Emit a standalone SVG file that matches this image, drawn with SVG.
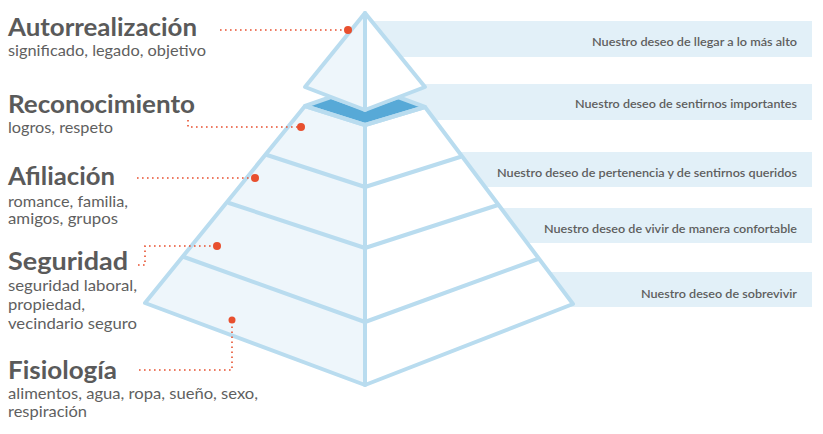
<svg xmlns="http://www.w3.org/2000/svg" width="823" height="434" viewBox="0 0 823 434">
<style>
.band{fill:#e2f0f8}
.bt{font-family:Lato,"Open Sans","Liberation Sans",sans-serif;font-size:11.5px;font-weight:600;fill:#5e5e5e}
.tt{font-family:Lato,"Open Sans","Liberation Sans",sans-serif;font-size:24px;font-weight:700;fill:#5a5a5a}
.st{font-family:Lato,"Open Sans","Liberation Sans",sans-serif;font-size:15px;fill:#5f5f5f}
.lf{fill:#eef6fb}
.rf{fill:#ffffff}
.ln{fill:none;stroke:#b9dcef;stroke-width:4;stroke-linejoin:round;stroke-linecap:round}
.ld{fill:none;stroke:#e8502f;stroke-width:1.6;stroke-dasharray:1.6 3.4}
.dot{fill:#e8502f}
</style>
<g id="bands">
<rect class="band" x="372" y="21" width="440" height="36"/>
<rect class="band" x="372" y="84" width="440" height="36"/>
<rect class="band" x="372" y="152" width="440" height="35"/>
<rect class="band" x="372" y="208" width="440" height="35"/>
<rect class="band" x="372" y="272" width="440" height="35"/>
<text class="bt" x="592" y="46" textLength="205" lengthAdjust="spacingAndGlyphs">Nuestro deseo de llegar a lo más alto</text>
<text class="bt" x="575" y="108" textLength="222" lengthAdjust="spacingAndGlyphs">Nuestro deseo de sentirnos importantes</text>
<text class="bt" x="497" y="177" textLength="300" lengthAdjust="spacingAndGlyphs">Nuestro deseo de pertenencia y de sentirnos queridos</text>
<text class="bt" x="544" y="233" textLength="253" lengthAdjust="spacingAndGlyphs">Nuestro deseo de vivir de manera confortable</text>
<text class="bt" x="641" y="298" textLength="156" lengthAdjust="spacingAndGlyphs">Nuestro deseo de sobrevivir</text>
</g>
<g id="pyramid">
<polygon class="lf" points="305,106 365,125 365,385 145,303"/>
<polygon class="rf" points="425,107 365,125 365,385 573,304"/>
<polygon fill="#57a9d7" stroke="#b9dcef" stroke-width="4" stroke-linejoin="round" points="305,106 331,97 365,109 398,97 425,107 365,125"/>
<polygon class="lf" points="365,13 305,87 365,110"/>
<polygon class="rf" points="365,13 425,87 365,110"/>
<polygon class="ln" points="365,13 305,87 365,110 425,87"/>
<line class="ln" x1="365" y1="13" x2="365" y2="110"/>
<polygon class="ln" points="305,106 365,125 425,107 573,304 365,385 145,303"/>
<line class="ln" x1="365" y1="125" x2="365" y2="385"/>
<polyline class="ln" points="267,155 365,187 460,157"/>
<polyline class="ln" points="229,203 365,248 498,205"/>
<polyline class="ln" points="184,257 365,322 538,259"/>
</g>
<g id="connectors">
<path class="ld" d="M220,30 H345"/>
<path class="ld" d="M188,120 V127 H298"/>
<path class="ld" d="M137,178 H252"/>
<path class="ld" d="M138,265 H145 V246 H214"/>
<path class="ld" d="M139,370 H232 V323"/>
<circle class="dot" cx="348" cy="30" r="4"/>
<circle class="dot" cx="301" cy="127" r="4"/>
<circle class="dot" cx="255" cy="178" r="4"/>
<circle class="dot" cx="217" cy="246" r="4"/>
<circle class="dot" cx="232" cy="320" r="3.5"/>
</g>
<g id="autorrealizacion">
<text class="tt" x="8" y="36" textLength="189" lengthAdjust="spacingAndGlyphs">Autorrealización</text>
<text class="st" x="8" y="56" textLength="198" lengthAdjust="spacingAndGlyphs">significado, legado, objetivo</text>
</g>
<g id="reconocimiento">
<text class="tt" x="8" y="113" textLength="187" lengthAdjust="spacingAndGlyphs">Reconocimiento</text>
<text class="st" x="8" y="133" textLength="105" lengthAdjust="spacingAndGlyphs">logros, respeto</text>
</g>
<g id="afiliacion">
<text class="tt" x="8" y="185" textLength="107" lengthAdjust="spacingAndGlyphs">Afiliación</text>
<text class="st" x="8" y="207" textLength="120" lengthAdjust="spacingAndGlyphs">romance, familia,</text>
<text class="st" x="8" y="224" textLength="110" lengthAdjust="spacingAndGlyphs">amigos, grupos</text>
</g>
<g id="seguridad">
<text class="tt" x="8" y="270" textLength="120" lengthAdjust="spacingAndGlyphs">Seguridad</text>
<text class="st" x="8" y="291" textLength="129" lengthAdjust="spacingAndGlyphs">seguridad laboral,</text>
<text class="st" x="8" y="310" textLength="77" lengthAdjust="spacingAndGlyphs">propiedad,</text>
<text class="st" x="8" y="329" textLength="129" lengthAdjust="spacingAndGlyphs">vecindario seguro</text>
</g>
<g id="fisiologia">
<text class="tt" x="8" y="379" textLength="109" lengthAdjust="spacingAndGlyphs">Fisiología</text>
<text class="st" x="8" y="399" textLength="250" lengthAdjust="spacingAndGlyphs">alimentos, agua, ropa, sueño, sexo,</text>
<text class="st" x="8" y="417" textLength="79" lengthAdjust="spacingAndGlyphs">respiración</text>
</g>
</svg>
